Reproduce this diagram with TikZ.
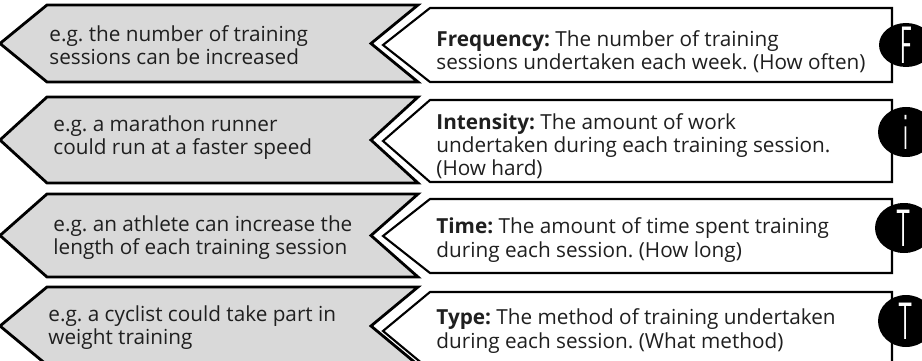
\documentclass[tikz,border=0pt]{standalone}
\usepackage{fontspec}
\setmainfont{Open Sans}

\definecolor{greyfill}{HTML}{D9D9D9}

\begin{document}
\frenchspacing
\begin{tikzpicture}[line width=1.6pt, x=0.02cm, y=-0.02cm,
    example/.style={anchor=west, align=left, inner sep=0pt, text=black!88,
        font=\fontsize{11.8}{13.2}\selectfont},
    define/.style={example},
    letter/.style={text=white, inner sep=0pt, xscale=.42, yscale=1,
        font=\sffamily\fontsize{30}{30}\selectfont}]

\useasboundingbox (0,0) rectangle (922,361);
\clip (0,0) rectangle (922,361);
\fill[white] (0,0) rectangle (922,361);

% grey chevron on the left, white arrow box on the right
\foreach \t/\b/\wt/\wb in {5/82/8/82, 97/183/100/182, 194/277/199/273, 287/365/292/370}{
    \pgfmathsetmacro{\m}{(\t+\b)/2}
    \pgfmathsetmacro{\wm}{(\wt+\wb)/2}
    \draw[fill=greyfill] (47,\t) -- (418,\t) -- (371,\m) -- (418,\b) -- (47,\b) -- (0,\m) -- cycle;
    \draw[line width=1.2pt, fill=white] (430,\wt) -- (892,\wt) -- (892,\wb) -- (430,\wb) -- (383,\wm) -- cycle;
}

\node[example] (ex1) at (48,45) {e.g. the number of training\\sessions can be increased};
\node[example] (ex2) at (52,138) {e.g. a marathon runner\\could run at a faster speed};
\node[example] (ex3) at (52,238) {e.g. an athlete can increase the\\length of each training session};
\node[example] (ex4) at (47,328) {e.g. a cyclist could take part in\\weight training};

\node[define] (def1) at (435,52) {\textbf{Frequency:} The number of training\\sessions undertaken each week. (How often)};
\node[define] (def2) at (435,146) {\textbf{Intensity:} The amount of work\\undertaken during each training session.\\(How hard)};
\node[define] (def3) at (435,240) {\textbf{Time:} The amount of time spent training\\during each session. (How long)};
\node[define] (def4) at (435,331) {\textbf{Type:} The method of training undertaken\\during each session. (What method)};

% black badges with the initials
\foreach \i/\x/\y/\rx/\ry/\l in {1/906/45/27/22/F, 2/906/132/28/25/i, 3/904/228/29/25/T, 4/906/321/28/26/T}{
    \fill (\x,\y) ellipse [x radius=\rx, y radius=\ry];
    \node[letter] (badge\i) at (\x,\y) {\l};
}
\end{tikzpicture}
\end{document}
